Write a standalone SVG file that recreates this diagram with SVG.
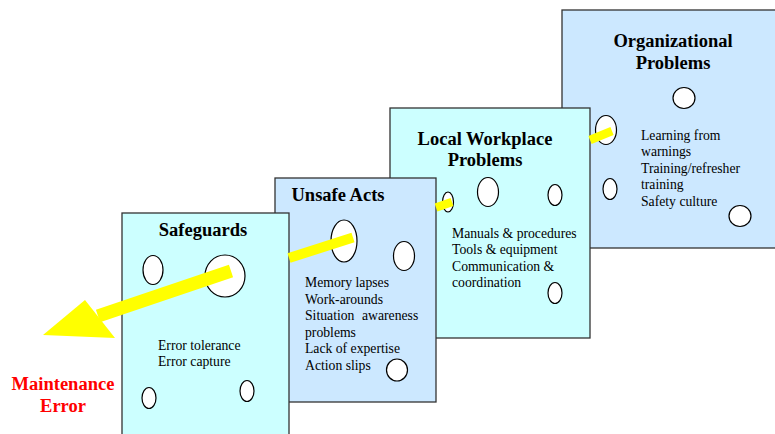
<svg xmlns="http://www.w3.org/2000/svg" width="775" height="434" viewBox="0 0 775 434">
<style>
.panel{stroke:#333;stroke-width:1.3}
.blue{fill:#CCE8FF}
.cyan{fill:#CCFFFF}
.hole{fill:#fff;stroke:#000;stroke-width:1.2}
.title{font-family:"Liberation Serif","Times New Roman",serif;font-weight:bold;font-size:18.5px;fill:#000;text-anchor:middle}
.body{font-family:"Liberation Serif","Times New Roman",serif;font-size:13.7px;fill:#000}
.ray{stroke:#FFFF00;fill:none;stroke-linecap:butt}
</style>
<rect width="775" height="434" fill="#fff"/>
<g id="organizational">
<rect class="panel blue" x="562" y="10" width="220" height="238"/>
<text class="title" x="673" y="47">Organizational</text>
<text class="title" x="673" y="68.5">Problems</text>
<ellipse class="hole" cx="684" cy="98" rx="11" ry="10.5"/>
<ellipse class="hole" cx="606" cy="130" rx="10.5" ry="14.5"/>
<ellipse class="hole" cx="610" cy="189" rx="7" ry="10.5"/>
<ellipse class="hole" cx="740" cy="216" rx="11" ry="10.5"/>
<text class="body"><tspan x="641" y="139.5">Learning from</tspan><tspan x="641" y="156">warnings</tspan><tspan x="641" y="172.5">Training/refresher</tspan><tspan x="641" y="189">training</tspan><tspan x="641" y="205.5">Safety culture</tspan></text>
</g>
<g id="local-workplace">
<rect class="panel cyan" x="390" y="108" width="200" height="230"/>
<text class="title" x="485" y="145">Local Workplace</text>
<text class="title" x="485" y="165.5">Problems</text>
<ellipse class="hole" cx="448" cy="202" rx="5.5" ry="10"/>
<ellipse class="hole" cx="488" cy="192" rx="10.5" ry="14.5"/>
<ellipse class="hole" cx="555" cy="195" rx="7" ry="10.5"/>
<ellipse class="hole" cx="555" cy="293" rx="7" ry="10.5"/>
<text class="body"><tspan x="452" y="237.5">Manuals &amp; procedures</tspan><tspan x="452" y="254">Tools &amp; equipment</tspan><tspan x="452" y="270.5">Communication &amp;</tspan><tspan x="452" y="287">coordination</tspan></text>
</g>
<g id="unsafe-acts">
<rect class="panel blue" x="275" y="178" width="161" height="224"/>
<text class="title" x="338" y="201">Unsafe Acts</text>
<ellipse class="hole" cx="344" cy="241" rx="13" ry="21"/>
<ellipse class="hole" cx="404" cy="256" rx="10.5" ry="14.5"/>
<ellipse class="hole" cx="397" cy="370" rx="10.5" ry="11"/>
<text class="body"><tspan x="305" y="287">Memory lapses</tspan><tspan x="305" y="303.5">Work-arounds</tspan><tspan x="305" y="320">Situation</tspan><tspan x="362" y="320">awareness</tspan><tspan x="305" y="336.5">problems</tspan><tspan x="305" y="353">Lack of expertise</tspan><tspan x="305" y="370">Action slips</tspan></text>
</g>
<g id="safeguards">
<rect class="panel cyan" x="122" y="213" width="167" height="230"/>
<text class="title" x="203" y="236">Safeguards</text>
<ellipse class="hole" cx="153" cy="270" rx="10" ry="14.5"/>
<ellipse class="hole" cx="225" cy="276" rx="20" ry="21"/>
<ellipse class="hole" cx="149" cy="398" rx="7" ry="10.5"/>
<ellipse class="hole" cx="247" cy="391" rx="7" ry="10.5"/>
<text class="body"><tspan x="158" y="349.5">Error tolerance</tspan><tspan x="158" y="366">Error capture</tspan></text>
</g>
<g id="connectors">
<line class="ray" x1="612" y1="131" x2="590" y2="140" stroke-width="8.5"/>
<line class="ray" x1="452" y1="202" x2="436" y2="207.5" stroke-width="8.5"/>
<line class="ray" x1="353" y1="237.5" x2="289" y2="258" stroke-width="10"/>
<line class="ray" x1="231" y1="271" x2="98" y2="316" stroke-width="13" stroke-linecap="round"/>
<polygon points="85,300 43,335 115,338" fill="#FFFF00"/>
</g>
<g id="maintenance-error">
<text class="title" x="63" y="390" fill="#FF0000" style="fill:#FF0000">Maintenance</text>
<text class="title" x="63" y="411.5" style="fill:#FF0000">Error</text>
</g>
</svg>
